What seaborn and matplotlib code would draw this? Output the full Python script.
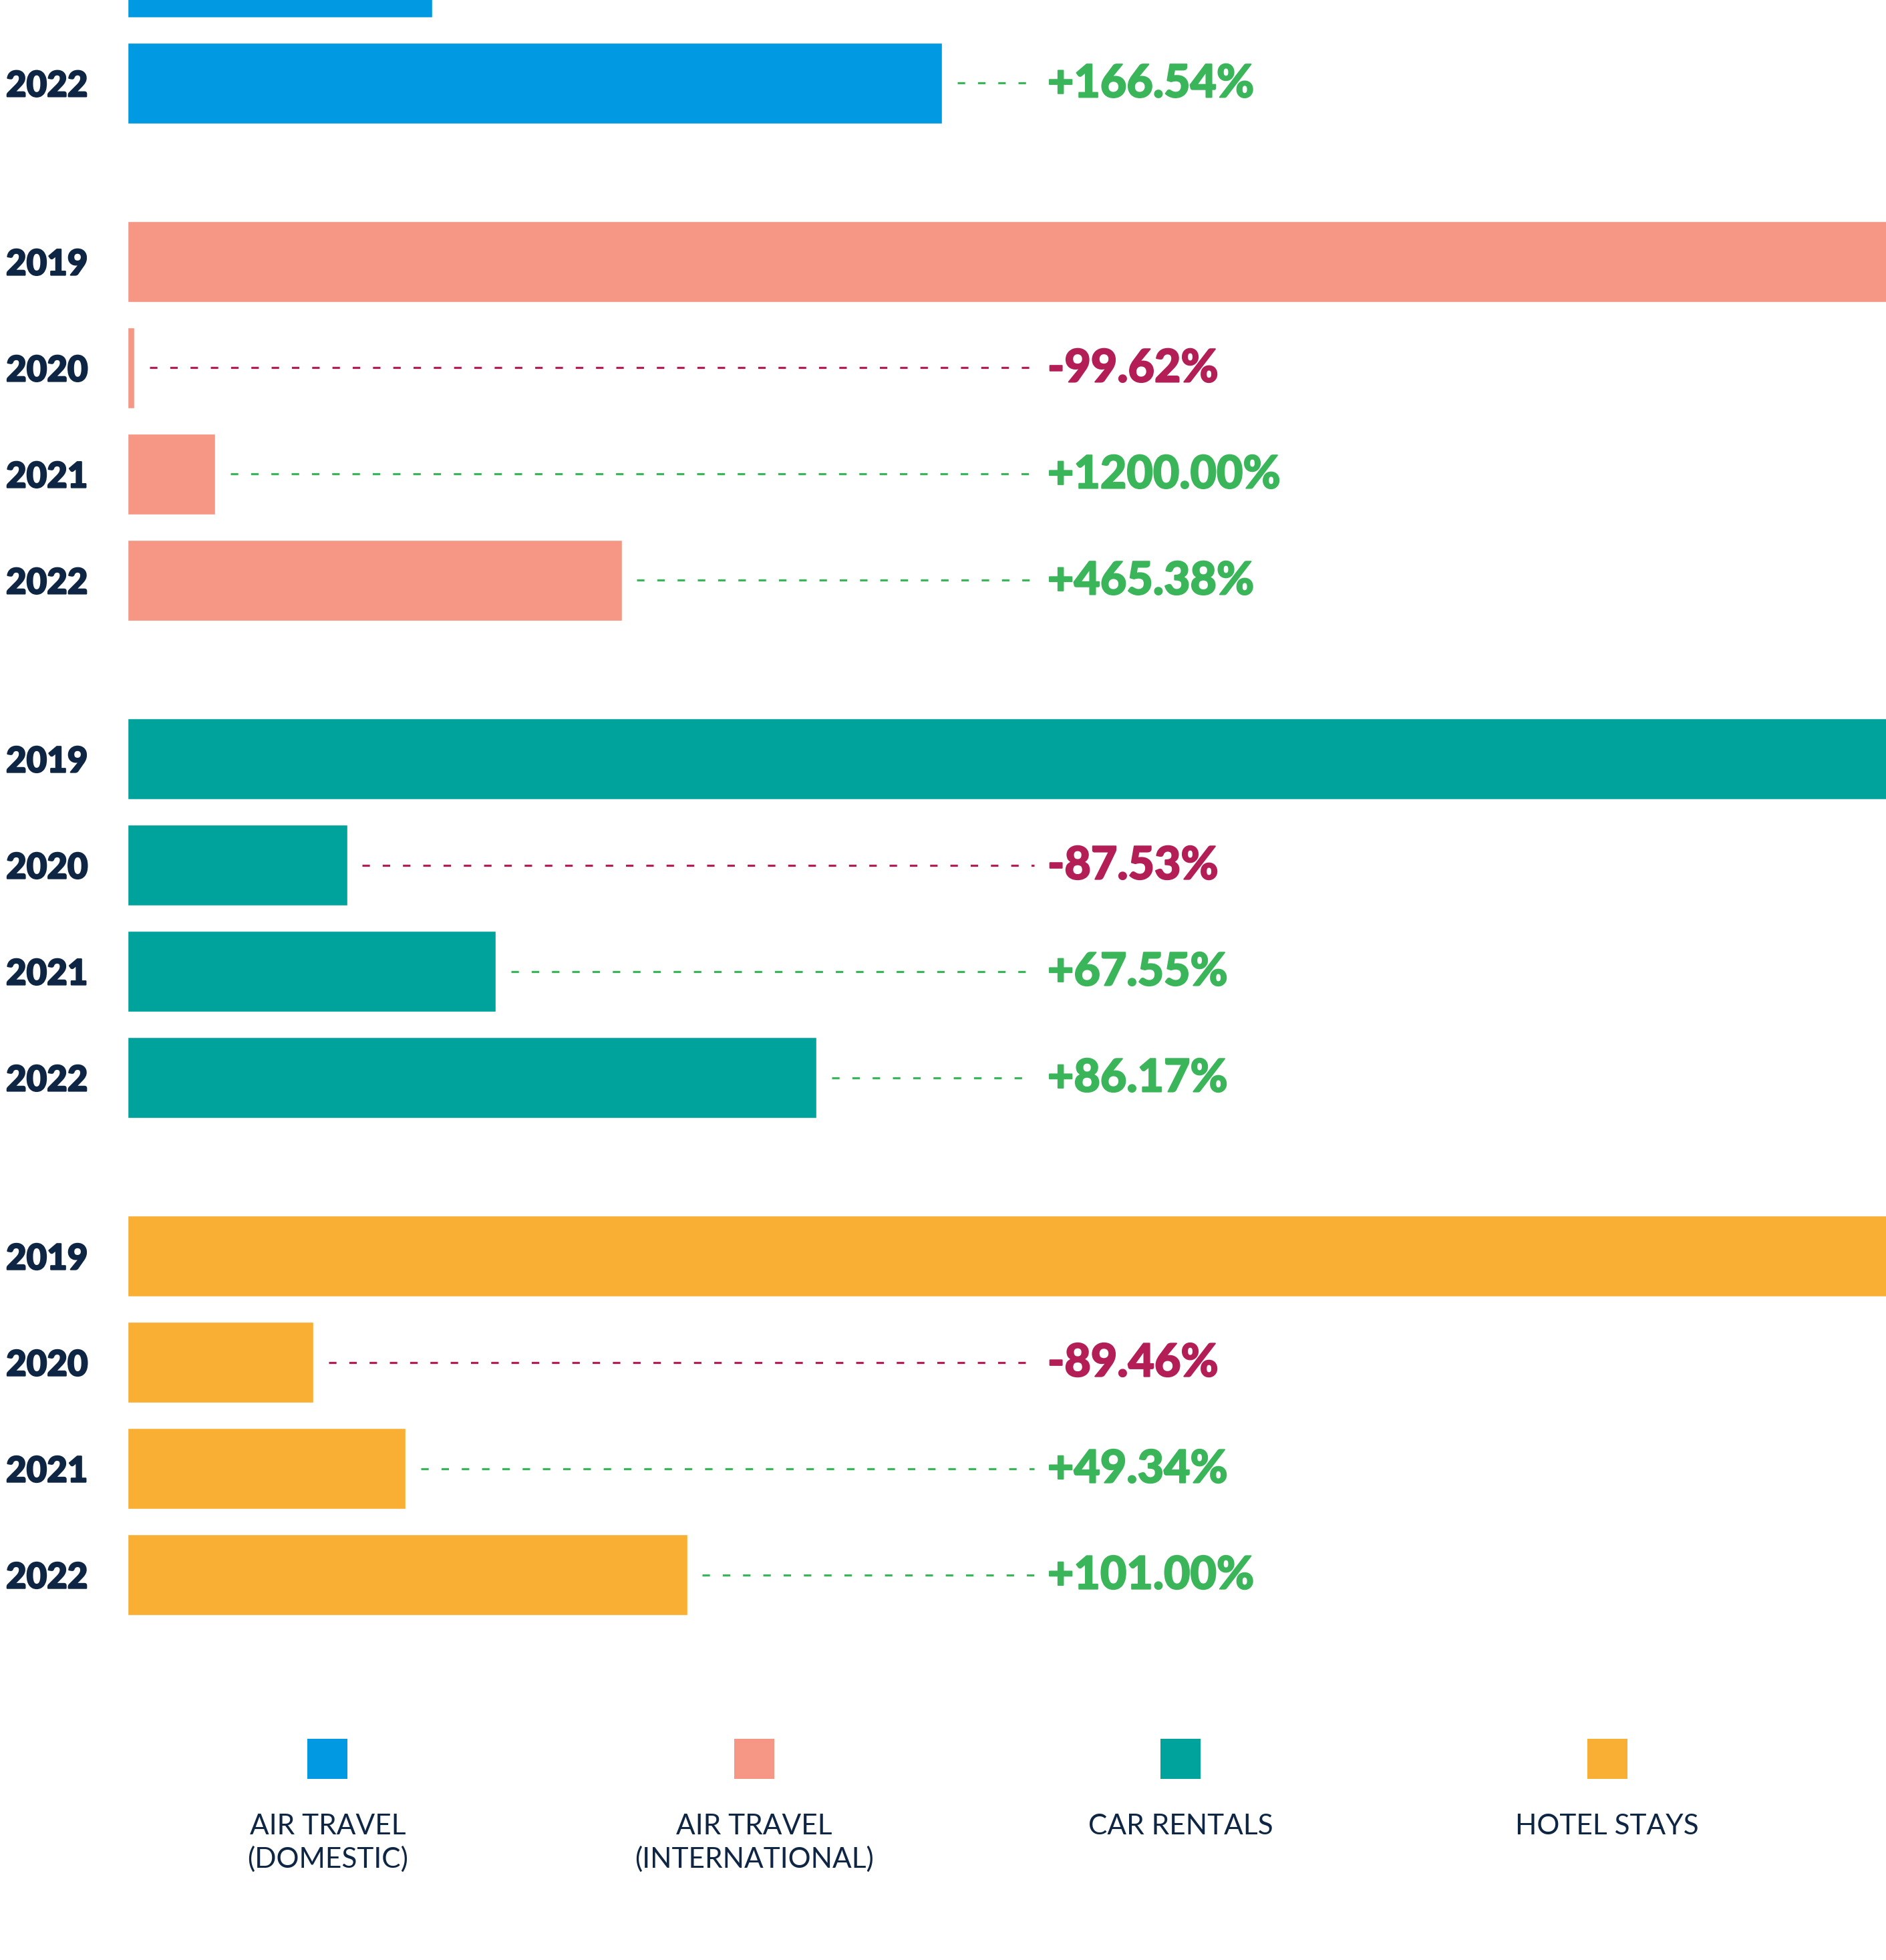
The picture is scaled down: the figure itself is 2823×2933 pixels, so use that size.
import pandas as pd
import matplotlib.pyplot as plt
import matplotlib.patheffects as pe
import seaborn as sns

# bar lengths as % of the 2019 level
dom_years = ["2021", "2022"]
dom_values = [17.2, 46.0]
dom_change = [None, 166.54]

intl_years = ["2019", "2020", "2021", "2022"]
intl_values = [100, 0.38, 4.94, 27.9]
intl_change = [None, -99.62, 1200.00, 465.38]

car_years = ["2019", "2020", "2021", "2022"]
car_values = [100, 12.4, 20.8, 38.9]
car_change = [None, -87.53, 67.55, 86.17]

hotel_years = ["2019", "2020", "2021", "2022"]
hotel_values = [100, 10.5, 15.7, 31.6]
hotel_change = [None, -89.46, 49.34, 101.00]

categories = ["AIR TRAVEL\n(DOMESTIC)", "AIR TRAVEL\n(INTERNATIONAL)", "CAR RENTALS", "HOTEL STAYS"]
colors = ["#0099E2", "#F69785", "#00A39C", "#F9AF34"]

NAVY = "#0E2643"
GREEN = "#3BB55A"
RED = "#B31E57"

sns.set_theme(style="white")
plt.rcParams["font.family"] = ["Lato", "DejaVu Sans"]

# build one long table, rows keep their slot inside each group
groups = [
    (dom_years, dom_values, dom_change, 2),
    (intl_years, intl_values, intl_change, 0),
    (car_years, car_values, car_change, 0),
    (hotel_years, hotel_values, hotel_change, 0),
]
rows = []
for g, (yrs, vals, chg, start) in enumerate(groups):
    for r, (yr, v, c) in enumerate(zip(yrs, vals, chg)):
        rows.append({"category": categories[g], "year": yr, "value": v,
                     "change": c, "pos": g * 4.68 + start + r})
df = pd.DataFrame(rows)

fig = plt.figure(figsize=(28.23, 29.33), dpi=100)
ax = fig.add_axes([0.0677, 0.1582, 0.939, 0.8418])

sns.barplot(data=df, x="value", y="pos", hue="category", orient="h",
            palette=dict(zip(categories, colors)), native_scale=True,
            width=0.76, dodge=False, saturation=1, errorbar=None,
            legend=False, ax=ax)

# dashed leaders + change labels
for _, row in df.dropna(subset=["change"]).iterrows():
    col = GREEN if row["change"] > 0 else RED
    ax.hlines(row["pos"], row["value"] + 0.85, 51.2, colors=col,
              linewidth=2.3, linestyles=(0, (3.5, 6.0)))
    ax.text(51.94, row["pos"] + 0.01, f"{row['change']:+.2f}%", color=col,
            fontsize=49, fontweight="black", va="center", ha="left",
            path_effects=[pe.withStroke(linewidth=1.4, foreground=col)])

ytop, ybot = 2.2176, 17.747
shown = df[df["pos"] > ytop]
ax.set_yticks(shown["pos"], shown["year"])
for lab in ax.get_yticklabels():
    lab.set_fontweight("black")
    lab.set_fontsize(38)
    lab.set_color(NAVY)
    lab.set_path_effects([pe.withStroke(linewidth=1.6, foreground=NAVY)])
ax.tick_params(axis="y", length=0, pad=43)
ax.tick_params(axis="x", length=0, labelbottom=False)
ax.set_xlim(0, 100)
ax.set_ylim(ybot, ytop)
ax.set_xlabel("")
ax.set_ylabel("")
sns.despine(ax=ax, left=True, bottom=True)

# legend row: squares with captions beneath
lax = fig.add_axes([0.0606, 1 - 1520 / 1568, 0.9046, 140 / 1568])
lax.set_xlim(0, 4)
lax.set_ylim(1520, 1380)
for i, (cat, col) in enumerate(zip(categories, colors)):
    lax.scatter(i + 0.5, 1407, s=1866, marker="s", color=col, linewidth=0)
    lax.text(i + 0.5, 1451, cat, ha="center", va="top", fontsize=30.5,
             color=NAVY, linespacing=1.3)
lax.axis("off")

fig.savefig("out.png", dpi=100)
